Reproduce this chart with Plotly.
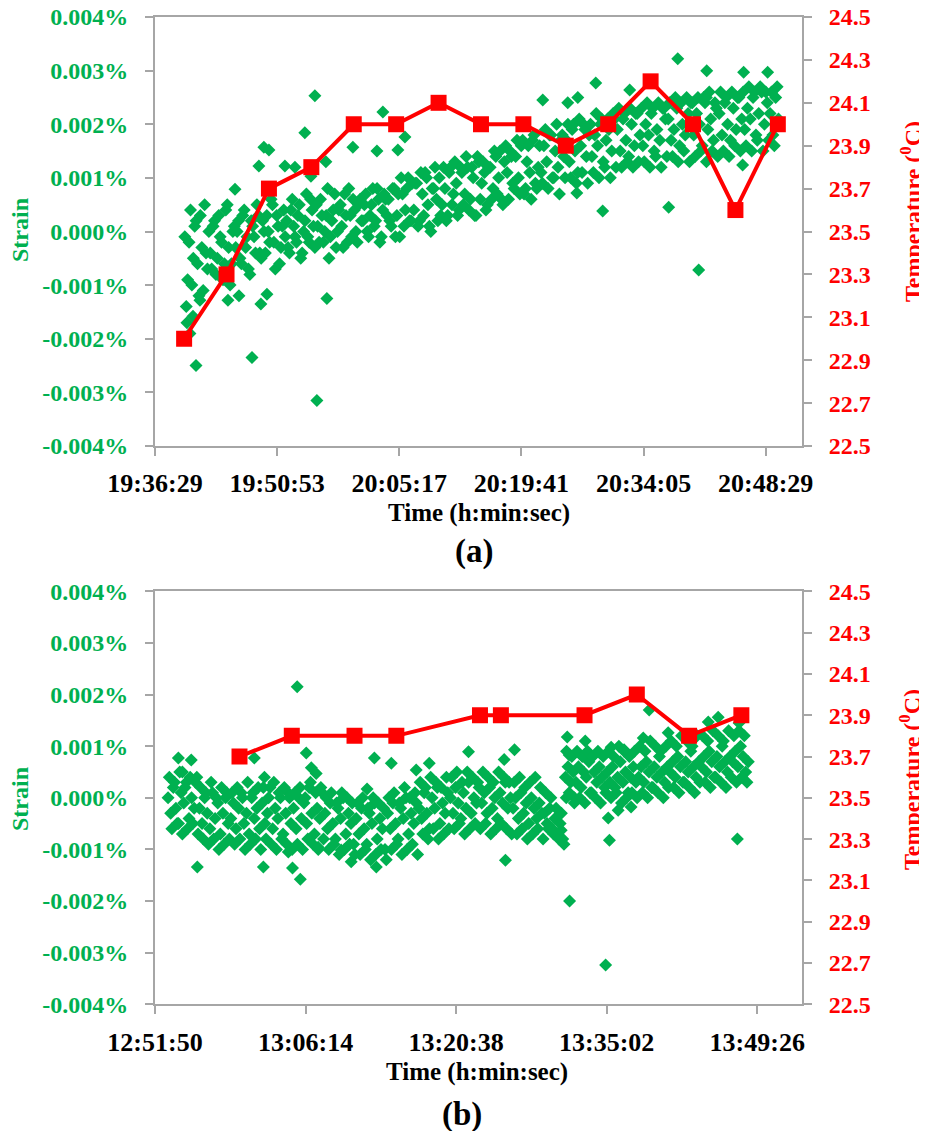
import pandas as pd
import plotly.graph_objects as go

DAY = "2000-01-01 "
GREEN = "#00B050"
RED = "#FF0000"
GRAY = "#A6A6A6"
FONT = '"Times New Roman", "Liberation Serif", serif'

# ---------------- Panel (a) ----------------
# strain samples (microstrain; 1 µε = 0.0001 %), two interleaved 20 s series
strain_a_start = "19:40:00"
strain_a2_start = "19:40:10"
strain_a_step = "20s"
strain_a = [
    -1, -9, 4, -5, 2, -12, -3, 5, -7,
    -4, 1, -8, 3, -2, -6, 5, -10, 0,
    -3, 2, -6, 4, -1, -8, 1, -4, 3,
    -5, 0, 3, -2, 5, -7, 1, -3, 4,
    2, -4, 6, -1, 3, -5, 0, 7, -2,
    4, -3, 1, 6, -2, 3, -5, 2, 7,
    0, 5, -3, 3, 8, -1, 4, -2, 6,
    2, 7, -1, 5, 1, 8, -2, 4, 6,
    6, 1, 8, 3, -1, 7, 4, 10, 2,
    4, 9, 2, 7, 11, 5, 0, 8, 6,
    10, 5, 8, 3, 12, 7, 9, 4, 11,
    7, 12, 6, 10, 3, 13, 9, 11, 5,
    12, 8, 14, 10, 6, 13, 11, 15, 9,
    14, 10, 16, 7, 13, 11, 17, 9, 12,
    11, 16, 13, 18, 10, 15, 12, 17, 14,
    17, 13, 19, 15, 11, 16, 20, 14, 18,
    14, 18, 16, 20, 13, 17, 19, 15, 21,
    19, 15, 21, 17, 14, 20, 16, 22, 18,
    16, 20, 18, 22, 15, 19, 17, 23, 21,
    21, 17, 19, 23, 16, 20, 18, 22, 24,
    18, 22, 20, 16, 24, 19, 21, 17, 23,
    22, 18, 24, 20, 17, 23, 19, 25, 21,
    19, 23, 21, 25, 18, 22, 26, 20, 24,
    22, 18, 25, 21,
]
strain_a2 = [
    -14, -2, -10, 1, -6, 3, -11, -4, 0,
    -7, 2, -5, -1, -9, 4, -3, -6, 1,
    0, -5, 3, -3, -7, 2, -1, 5, -4,
    2, -4, 0, 6, -2, 3, -6, 1, -1,
    -3, 4, 1, -2, 5, -4, 2, -1, 6,
    1, 5, -2, 3, 0, 8, -1, 4, -3,
    4, 1, 7, -2, 3, 6, 0, 5, 2,
    5, 0, 3, 8, 2, 6, -1, 7, 3,
    2, 8, -1, 7, 10, 1, 8, 2, 9,
    9, 1, 11, 3, 10, 1, 8, 12, 2,
    3, 12, 2, 11, 5, 13, 3, 12, 5,
    14, 4, 12, 3, 14, 6, 13, 4, 12,
    6, 15, 7, 15, 5, 16, 6, 14, 8,
    17, 7, 17, 8, 16, 6, 18, 8, 16,
    9, 19, 8, 18, 10, 20, 7, 18, 10,
    20, 10, 20, 9, 21, 11, 19, 9, 20,
    11, 22, 10, 21, 12, 21, 10, 22, 12,
    23, 12, 22, 13, 23, 12, 22, 13, 23,
    13, 24, 12, 23, 14, 24, 12, 23, 14,
    24, 14, 25, 13, 24, 15, 25, 13, 24,
    14, 25, 15, 25, 13, 26, 15, 24, 14,
    26, 15, 25, 14, 26, 16, 25, 15, 26,
    16, 27, 15, 26, 17, 27, 15, 26, 17,
    26, 16, 27,
]
# isolated strain readings (a)
out_a_time = [
    "19:41:19", "19:47:55", "19:55:34", "19:56:45", "19:55:20", "19:54:09",
    "19:49:19", "19:49:55", "19:48:44", "19:51:48", "19:52:59", "19:54:52",
    "19:45:55", "19:56:38", "20:03:21", "20:05:57", "20:05:07", "20:02:39",
    "19:59:49", "19:45:05", "19:48:58", "19:49:41", "19:46:23", "19:40:36",
    "19:40:15", "19:40:58", "19:41:47", "20:38:07", "20:41:32", "20:45:53",
    "20:48:43", "20:28:27", "20:29:16", "20:37:03", "20:40:35", "20:26:13",
    "20:45:46", "20:22:12", "20:32:27", "20:41:30", "20:25:09", "20:26:20",
]
out_a_val = [
    -25.0, -23.5, -31.5, -12.5, 25.3, 18.4,
    15.7, 15.2, 12.2, 12.2, 12.0, 10.3,
    7.9, 13.0, 22.3, 17.6, 15.2, 15.0,
    15.7, -12.8, -13.5, -11.7, -12.0, -19.0,
    -17.0, -15.8, -12.8, 32.2, 30.0, 29.7,
    29.7, 27.7, 3.8, 4.5, -7.2, 7.2,
    12.4, 24.5, 26.4, 25.0, 24.0, 25.0,
]
temp_a_time = [
    "19:39:55", "19:44:55", "19:49:55", "19:54:55", "19:59:55",
    "20:04:55", "20:09:55", "20:14:55", "20:19:55", "20:24:55",
    "20:29:55", "20:34:55", "20:39:55", "20:44:55", "20:49:55",
]
temp_a = [23.0, 23.3, 23.7, 23.8, 24.0, 24.0, 24.1, 24.0, 24.0, 23.9,
          24.0, 24.2, 24.0, 23.6, 24.0]

# ---------------- Panel (b) ----------------
strain_b_start = "12:53:05"
strain_b2_start = "12:53:12"
strain_b_step = "15s"
strain_b = [
    0, -3, 2, -2, -5, 1, -1, 3, -4, 0, -2, 4,
    -2, -5, 0, -3, -6, 1, -4, -1, -7, -3, 0, -5,
    -4, -1, -6, -2, 1, -5, -3, -7, 0, -4, -2, -6,
    -1, -5, -3, 2, -6, -2, -4, 0, -7, -3, 1, -5,
    -2, -6, 0, -4, -1, -5, 2, -3, -7, -2, -4, 1,
    -3, -6, -1, -5, -8, -2, -4, 0, -7, -3, -5, -9,
    -4, -7, -2, -6, -9, -3, -5, -1, -8, -4, -6, -10,
    -3, -6, -1, -5, -8, -2, -4, 0, -7, -3, -5, -1,
    -2, -4, 1, -3, -6, 0, -2, 2, -5, -1, -3, 1,
    0, -3, 2, -1, -4, 1, -2, 3, -3, 0, -1, 2,
    -1, 1, -3, 2, -2, 0, -4, 1, -1, 3, -2, 0,
    -2, 0, -4, 1, -3, -1, -5, 0, -2, -4, -1, -3,
    -3, -5, -2, -6, -4, -7, -5, -8, 4, 6, 3, 5,
    3, 6, 2, 5, 4, 7, 1, 5, 3, 6, 4, 2,
    5, 3, 6, 2, 4, 7, 3, 5, 1, 4, 6, 3,
    4, 6, 3, 7, 5, 2, 6, 4, 8, 5, 3, 6,
    5, 7, 4, 8, 6, 3, 7, 5, 9, 6, 4, 7,
    6, 8, 5, 9, 7, 4, 8, 6, 10, 7, 5, 8,
    7, 9, 6, 10, 8, 5, 7,
]
strain_b2 = [
    4, -6, 3, -5, 5, -7, 2, -6, 4, -5, 3, -7,
    2, -8, 1, -9, 3, -8, 0, -10, 2, -9, 1, -8,
    1, -9, 2, -8, 0, -10, 3, -9, 1, -8, 2, -10,
    2, -8, 0, -9, 3, -10, 1, -8, 2, -9, 0, -10,
    1, -9, 2, -10, 0, -8, 3, -9, 1, -10, 2, -8,
    0, -10, 1, -9, -1, -11, 1, -10, 0, -9, -1, -11,
    -1, -11, 0, -10, -2, -12, 0, -11, -1, -10, -2, -12,
    0, -10, 1, -9, -1, -11, 2, -10, 0, -9, 1, -11,
    3, -7, 2, -8, 4, -6, 3, -8, 2, -7, 4, -6,
    4, -6, 5, -5, 3, -7, 5, -6, 4, -5, 3, -6,
    5, -5, 4, -7, 3, -6, 5, -5, 4, -6, 3, -7,
    3, -7, 4, -6, 2, -8, 3, -7, 4, -6, 2, -8,
    1, -6, 0, -7, -2, -8, -3, -9, 9, 1, 8, 0,
    9, 0, 8, -1, 9, 1, 8, 0, 9, -1, 8, 1,
    9, 0, 8, 1, 10, -1, 9, 0, 8, 1, 9, 0,
    10, 1, 9, 0, 11, 2, 10, 1, 9, 0, 10, 2,
    11, 2, 10, 1, 12, 3, 11, 2, 10, 1, 12, 3,
    12, 3, 11, 2, 13, 4, 12, 3, 11, 2, 13, 4,
    12, 3, 13, 4, 12, 3,
]
out_b_time = [
    "12:54:04", "12:55:18", "12:54:27", "13:05:26", "13:01:20", "13:06:18",
    "13:06:47", "13:07:15", "13:12:49", "13:14:26", "13:16:49", "13:18:04",
    "13:12:07", "13:02:18", "12:55:53", "13:02:12", "13:05:44", "13:04:59",
    "13:04:35", "13:07:26", "13:10:36", "13:13:00", "13:09:38", "13:25:21",
    "13:31:29", "13:34:56", "13:35:18", "13:47:32", "13:39:06", "13:31:16",
    "13:32:59", "13:31:27", "13:35:28", "13:36:42", "13:38:32", "13:40:55",
    "13:44:45", "13:45:42", "13:47:42", "13:35:11", "13:36:08", "13:37:22",
    "13:31:10", "13:31:56", "13:30:41", "13:21:49", "13:26:13", "13:25:14",
]
out_b_val = [
    7.7, 7.3, 5.0, 21.5, 7.7, 8.7,
    5.8, 4.7, 7.7, 6.7, 5.4, 6.7,
    1.7, 4.0, -13.4, -13.4, -15.8, -13.6,
    -10.5, -9.6, -12.4, -13.4, -10.1, -12.1,
    -20.0, -32.4, -8.2, -8.0, 17.0, 11.8,
    11.0, 8.3, 9.8, 9.3, 11.6, 12.6,
    14.7, 15.6, 14.5, -3.9, -2.4, -1.8,
    0.0, -1.0, -6.3, 8.9, 9.3, 7.4,
]
temp_b_time = [
    "12:59:55", "13:04:55", "13:10:55", "13:14:55", "13:22:55",
    "13:24:55", "13:32:55", "13:37:55", "13:42:55", "13:47:55",
]
temp_b = [23.7, 23.8, 23.8, 23.8, 23.9, 23.9, 23.9, 24.0, 23.8, 23.9]

# ---------------- axis ticks ----------------
strain_ticks = [-0.004, -0.003, -0.002, -0.001, 0.0, 0.001, 0.002, 0.003, 0.004]
strain_ticktext = [f"{v:.3f}%" for v in strain_ticks]
temp_ticks = [22.5, 22.7, 22.9, 23.1, 23.3, 23.5, 23.7, 23.9, 24.1, 24.3, 24.5]
temp_ticktext = [f"{v:.1f}" for v in temp_ticks]
x_range_a = ["19:36:29", "20:52:46"]
x_range_b = ["12:51:50", "13:53:43"]
TICK_STEP_MS = 864000  # 14 min 24 s


def ts(s):
    return pd.Timestamp(DAY + s)


def strain_xy(series, step, otimes, ovals):
    xs, ys = [], []
    for start, core in series:
        xs += list(pd.date_range(DAY + start, periods=len(core), freq=step))
        ys += list(core)
    xs += [ts(s) for s in otimes]
    ys += list(ovals)
    return xs, [v * 1e-4 for v in ys]


xa, ya = strain_xy([(strain_a_start, strain_a), (strain_a2_start, strain_a2)],
                   strain_a_step, out_a_time, out_a_val)
xb, yb = strain_xy([(strain_b_start, strain_b), (strain_b2_start, strain_b2)],
                   strain_b_step, out_b_time, out_b_val)

fig = go.Figure()
green_marker = dict(symbol="diamond", size=10, color=GREEN, line=dict(width=0))
red_marker = dict(symbol="square", size=16, color=RED, line=dict(width=0))

fig.add_trace(go.Scatter(x=xa, y=ya, mode="markers", marker=green_marker,
                         xaxis="x", yaxis="y", showlegend=False))
fig.add_trace(go.Scatter(x=[ts(s) for s in temp_a_time], y=temp_a, mode="lines+markers",
                         line=dict(color=RED, width=4), marker=red_marker,
                         xaxis="x", yaxis="y2", showlegend=False))
fig.add_trace(go.Scatter(x=xb, y=yb, mode="markers", marker=green_marker,
                         xaxis="x2", yaxis="y3", showlegend=False))
fig.add_trace(go.Scatter(x=[ts(s) for s in temp_b_time], y=temp_b, mode="lines+markers",
                         line=dict(color=RED, width=4), marker=red_marker,
                         xaxis="x2", yaxis="y4", showlegend=False))

OFF = 8  # page body margin
W, H = 927 - OFF, 1131 - OFF


def px(x):
    return (x - OFF) / W


def py(y):
    return 1 - (y - OFF) / H


XD = [px(155), px(802)]
YD_A = [py(446), py(17)]
YD_B = [py(1004.3), py(591.3)]

common = dict(showline=True, linecolor=GRAY, linewidth=2, ticks="outside", ticklen=8,
              tickwidth=2, tickcolor=GRAY, showgrid=False, zeroline=False,
              automargin=False, ticklabeloverflow="allow")


def xaxis(rng, anchor):
    return dict(common, type="date", domain=XD, anchor=anchor,
                range=[ts(rng[0]), ts(rng[1])], tick0=ts(rng[0]), dtick=TICK_STEP_MS,
                tickformat="%H:%M:%S", mirror=True, ticklabelstandoff=5,
                tickfont=dict(family=FONT, size=26, color="black", weight="bold"))


def yleft(dom, anchor):
    return dict(common, domain=dom, anchor=anchor, range=[-0.004, 0.004],
                tickmode="array", tickvals=strain_ticks, ticktext=strain_ticktext,
                ticklabelstandoff=12,
                tickfont=dict(family=FONT, size=24, color=GREEN, weight="bold"))


def yright(over, anchor):
    return dict(common, overlaying=over, side="right", anchor=anchor, range=[22.5, 24.5],
                tickmode="array", tickvals=temp_ticks, ticktext=temp_ticktext,
                ticklabelstandoff=12,
                tickfont=dict(family=FONT, size=24, color=RED, weight="bold"))


def ann(text, x, y, size, color, angle=0):
    return dict(text=text, x=px(x), y=py(y), xref="paper", yref="paper",
                showarrow=False, xanchor="center", yanchor="middle", textangle=angle,
                font=dict(family=FONT, size=size, color=color, weight="bold"))


fig.update_layout(
    width=W, height=H, margin=dict(l=0, r=0, t=0, b=0),
    paper_bgcolor="white", plot_bgcolor="white", showlegend=False,
    xaxis=xaxis(x_range_a, "y"),
    yaxis=yleft(YD_A, "x"),
    yaxis2=yright("y", "x"),
    xaxis2=xaxis(x_range_b, "y3"),
    yaxis3=yleft(YD_B, "x2"),
    yaxis4=yright("y3", "x2"),
    annotations=[
        ann("Time (h:min:sec)", 479, 513, 25, "black"),
        ann("(a)", 474, 551, 33, "black"),
        ann("Strain", 20, 230, 24, GREEN, -90),
        ann("Temperature (<sup>0</sup>C)", 911, 212, 24, RED, -90),
        ann("Time (h:min:sec)", 477, 1072, 25, "black"),
        ann("(b)", 462, 1114, 33, "black"),
        ann("Strain", 20, 799, 24, GREEN, -90),
        ann("Temperature (<sup>0</sup>C)", 910, 780, 24, RED, -90),
    ],
)

fig.write_html("out.html")
